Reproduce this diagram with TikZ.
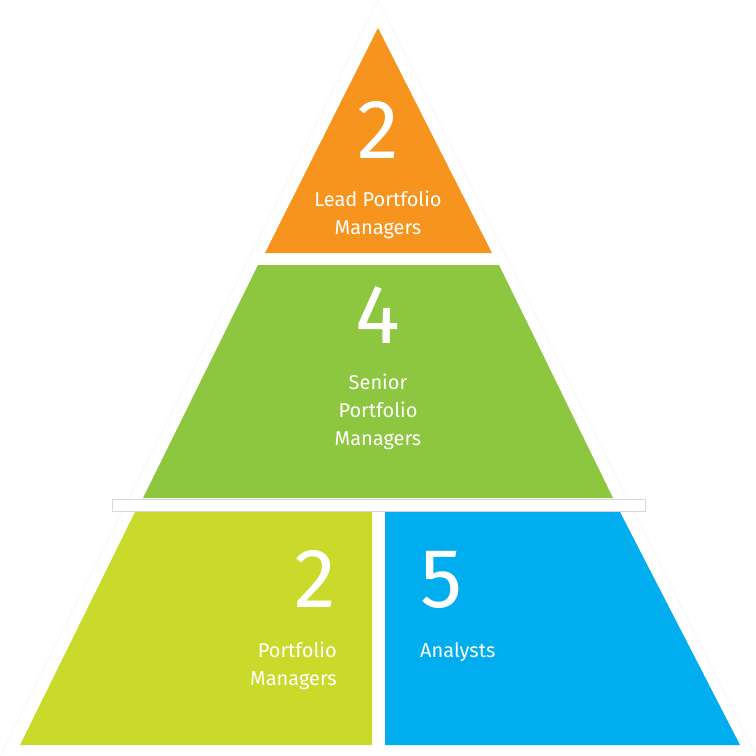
\documentclass[tikz,border=0pt]{standalone}
\usepackage{fontspec}
\setmainfont{Fira Sans}
\definecolor{orng}{HTML}{F7941E}
\definecolor{grn}{HTML}{8DC63F}
\definecolor{lime}{HTML}{C9DA2A}
\definecolor{sky}{HTML}{00ADEE}
\definecolor{edge}{HTML}{D8D8D8}
\tikzset{big/.style={text=white,font=\fontsize{84}{84}\selectfont,inner sep=0pt,text height=0.68em,text depth=0pt},
lbl/.style={text=white,font=\fontsize{20}{28}\selectfont,inner sep=0pt}}
\begin{document}
\begin{tikzpicture}[x=1pt,y=-1pt]
\useasboundingbox (0,0) rectangle (756,756);
\draw[edge,densely dotted,fill=white] (378,0) -- (0,756) -- (756,756) -- cycle;
\draw[edge,fill=white] (112,499) rectangle (645,511);
\fill[white] (120,500) rectangle (638,510);
\fill[orng] (378,28) -- (492,253) -- (265,253) -- cycle;
\fill[grn] (258,265) -- (499,265) -- (613,498) -- (143,498) -- cycle;
\fill[lime] (135,512) -- (372,512) -- (372,745) -- (20,745) -- cycle;
\fill[sky] (385,512) -- (620,512) -- (740,745) -- (385,745) -- cycle;
\node[big] (n1) at (378,155) {2};
\node[lbl,align=center] (t1) at (378,215) {Lead Portfolio\\Managers};
\node[big] (n2) at (378,340) {4};
\node[lbl,align=center] (t2) at (378,412) {Senior\\Portfolio\\Managers};
\node[big,anchor=east] (n3) at (336,604) {2};
\node[lbl,align=right,anchor=east] (t3) at (337,666) {Portfolio\\Managers};
\node[big,anchor=west] (n4) at (420,604) {5};
\node[lbl,anchor=west] (t4) at (420,652) {Analysts};
\end{tikzpicture}
\end{document}
